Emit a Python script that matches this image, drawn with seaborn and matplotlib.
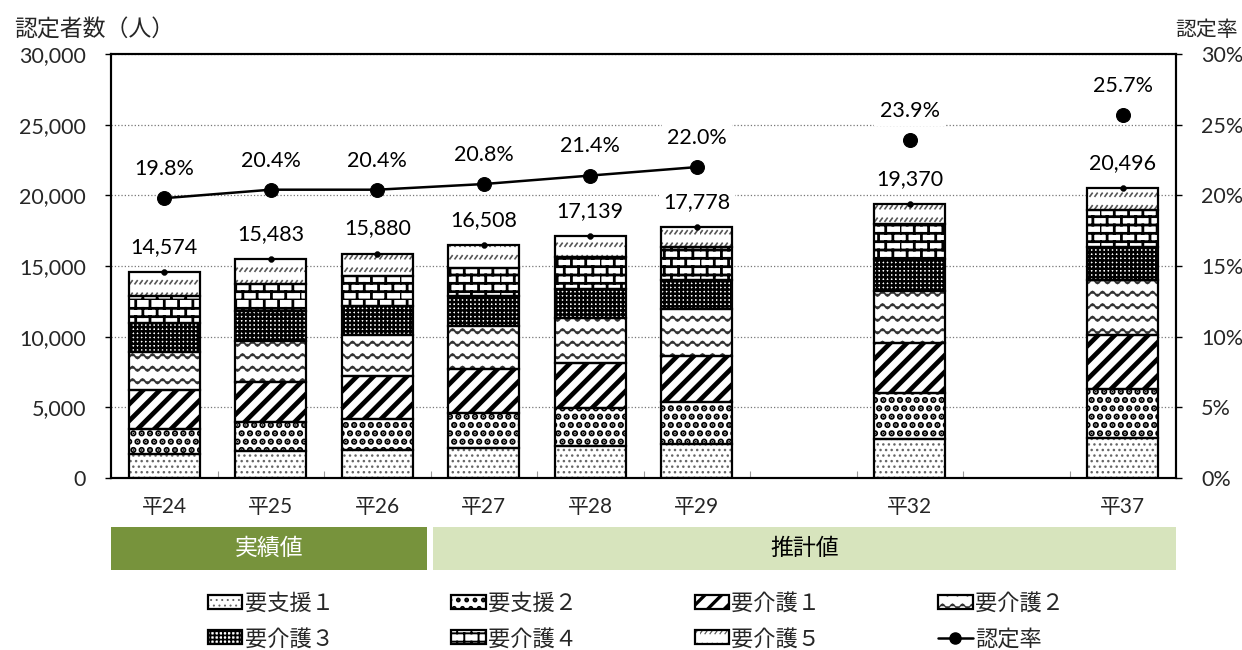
import warnings
warnings.filterwarnings('ignore')

import numpy as np
import matplotlib
matplotlib.use('Agg')
import matplotlib.pyplot as plt
import matplotlib.patches as mpatches
import matplotlib.hatch as mhatch
from matplotlib.path import Path
from matplotlib.lines import Line2D
from matplotlib.legend_handler import HandlerTuple
import matplotlib.transforms as mtransforms
import seaborn as sns

# ===== data =====
slots = ['平24', '平25', '平26', '平27', '平28', '平29', '', '平32', '', '平37']
years = ['平24', '平25', '平26', '平27', '平28', '平29', '平32', '平37']

shien1 = [1727, 1890, 1960, 2123, 2265, 2435, 2739, 2859]
shien2 = [1769, 2073, 2244, 2505, 2689, 2944, 3305, 3418]
kaigo1 = [2711, 2831, 2993, 3065, 3185, 3255, 3538, 3822]
kaigo2 = [2710, 2902, 2902, 3043, 3213, 3305, 3631, 3942]
kaigo3 = [2053, 2101, 2074, 2123, 2052, 2102, 2265, 2307]
kaigo4 = [1889, 1961, 2102, 2031, 2237, 2307, 2526, 2647]
kaigo5 = [1715, 1725, 1605, 1618, 1498, 1430, 1366, 1501]
totals = [14574, 15483, 15880, 16508, 17139, 17778, 19370, 20496]
rates = [19.8, 20.4, 20.4, 20.8, 21.4, 22.0, 23.9, 25.7]
n_actual = 6  # rate line joins the yearly values only

series_names = ['要支援１', '要支援２', '要介護１', '要介護２', '要介護３', '要介護４', '要介護５']
band_labels = ['実績値', '推計値']


# ===== custom hatches (wave, brick, short dash) =====
class WaveHatch(mhatch.HatchPatternBase):
    pts = 81

    def __init__(self, hatch, density):
        self.rows = hatch.count('~') * 8
        self.num_vertices = self.rows * self.pts

    def set_vertices_and_codes(self, vertices, codes):
        t = np.linspace(0, 1, self.pts)
        step = 1.0 / self.rows
        for i in range(self.rows):
            s = slice(i * self.pts, (i + 1) * self.pts)
            vertices[s, 0] = t
            vertices[s, 1] = (i + 0.5) * step + 0.022 * np.sin(2 * np.pi * 10 * t)
            codes[s] = Path.LINETO
            codes[i * self.pts] = Path.MOVETO


class BrickHatch(mhatch.HatchPatternBase):
    def __init__(self, hatch, density):
        self.rows = hatch.count('b') * 12
        self.cols = 7
        self.num_vertices = self.rows * 2 + self.rows * self.cols * 2 if self.rows else 0

    def set_vertices_and_codes(self, vertices, codes):
        step = 1.0 / self.rows
        k = 0
        for i in range(self.rows):
            y = i * step
            vertices[k] = (0, y); codes[k] = Path.MOVETO
            vertices[k + 1] = (1, y); codes[k + 1] = Path.LINETO
            k += 2
            off = 0.5 * (i % 2)
            for j in range(self.cols):
                x = ((j + off) / self.cols) % 1.0
                vertices[k] = (x, y); codes[k] = Path.MOVETO
                vertices[k + 1] = (x, y + step); codes[k + 1] = Path.LINETO
                k += 2


class DashHatch(mhatch.HatchPatternBase):
    def __init__(self, hatch, density):
        self.rows = hatch.count('d') * 8
        self.cols = 20
        self.num_vertices = self.rows * self.cols * 2

    def set_vertices_and_codes(self, vertices, codes):
        k = 0
        for i in range(self.rows):
            y = (i + 0.3) / self.rows
            for j in range(self.cols):
                x = j / self.cols
                vertices[k] = (x, y); codes[k] = Path.MOVETO
                vertices[k + 1] = (x + 0.022, y + 0.03); codes[k + 1] = Path.LINETO
                k += 2


mhatch._hatch_types.extend([WaveHatch, BrickHatch, DashHatch])

# hatch, hatch colour, hatch linewidth
styles = [
    ('...', '#666666', 1.0),
    ('..', '#000000', 3.2),
    ('//', '#000000', 3.4),
    ('~', '#333333', 1.3),
    ('++++', '#000000', 1.8),
    ('b', '#000000', 2.0),
    ('d', '#555555', 1.2),
]

# ===== figure =====
sns.set_theme(style='white')
plt.rcParams['font.family'] = ['Lato', 'Noto Sans CJK JP', 'DejaVu Sans']

fig = plt.figure(figsize=(12.42, 6.5), dpi=100)
ax = fig.add_axes([0.0894, 0.2646, 0.8575, 0.6523])
ax2 = ax.twinx()

xpos = np.array([slots.index(y) for y in years])
width = 0.67
layers = [shien1, shien2, kaigo1, kaigo2, kaigo3, kaigo4, kaigo5]

bottom = np.zeros(len(years))
handles = []
for vals, (hatch, hcol, hlw), name in zip(layers, styles, series_names):
    vals = np.array(vals, dtype=float)
    with plt.rc_context({'hatch.linewidth': hlw}):
        hb = ax.bar(xpos, vals, width, bottom=bottom, color='white',
                    edgecolor=hcol, linewidth=0, hatch=hatch, zorder=2)
    ob = ax.bar(xpos, vals, width, bottom=bottom, fill=False,
                edgecolor='black', linewidth=1.6, zorder=3)
    handles.append((hb.patches[0], ob.patches[0]))
    bottom += vals

# dots at top of each bar + total labels
sns.scatterplot(x=xpos, y=bottom, ax=ax, color='black', s=18, zorder=4,
                edgecolor='black', legend=False)
for x, y, t in zip(xpos, bottom, totals):
    ax.annotate(f'{t:,}', (x, y), xytext=(0, 18), textcoords='offset points',
                ha='center', va='center', fontsize=15.5, color='black', zorder=5,
                bbox=dict(boxstyle='square,pad=0.2', fc='white', ec='none'))

ax.set_xlim(-0.5, len(slots) - 0.5)
ax.set_ylim(0, 30000)
ax.set_yticks(np.arange(0, 30001, 5000))
ax.set_yticklabels([f'{v:,}' for v in range(0, 30001, 5000)])
ax.set_xticks(xpos)
ax.set_xticklabels(years)
ax.set_xticks(np.arange(0.5, len(slots) - 1, 1.0), minor=True)
ax.tick_params(axis='x', which='major', length=0, pad=14, labelsize=15)
ax.tick_params(axis='x', which='minor', direction='in', length=5, width=0.8,
               color='#999999', bottom=True)
ax.tick_params(axis='y', length=4, width=1, color='black', labelsize=15.5,
               pad=14, left=True)
ax.grid(axis='y', linestyle=':', linewidth=0.9, color='#777777')
ax.grid(axis='x', visible=False)
ax.set_axisbelow(True)
for sp in ax.spines.values():
    sp.set_color('black')
    sp.set_linewidth(1.5)

# rate line
sns.lineplot(x=xpos[:n_actual], y=rates[:n_actual], ax=ax2, color='black',
             linewidth=1.8, marker='o', markersize=10, markeredgecolor='black',
             zorder=5, legend=False)
sns.scatterplot(x=xpos[n_actual:], y=rates[n_actual:], ax=ax2, color='black',
                s=100, edgecolor='black', zorder=5, legend=False)
for x, r in zip(xpos, rates):
    ax2.annotate(f'{r:.1f}%', (x, r), xytext=(0, 21), textcoords='offset points',
                 ha='center', va='center', fontsize=15.5, color='black', zorder=6,
                 bbox=dict(boxstyle='square,pad=0.25', fc='white', ec='none'))
ax2.set_ylim(0, 30)
ax2.set_yticks(np.arange(0, 31, 5))
ax2.set_yticklabels([f'{v}%' for v in range(0, 31, 5)])
ax2.tick_params(axis='y', length=4, width=1, color='black', labelsize=15.5,
                pad=14, right=True)
ax2.grid(False)
for sp in ax2.spines.values():
    sp.set_color('black')
    sp.set_linewidth(1.5)

# axis titles
fig.text(14 / 1242, 1 - 30 / 650, '認定者数（人）', ha='left', va='center', fontsize=16.5)
fig.text(1238 / 1242, 1 - 30 / 650, '認定率', ha='right', va='center', fontsize=15)

# actual / estimate bands under the x axis
trans = mtransforms.blended_transform_factory(ax.transData, fig.transFigure)
band_y0, band_h = 1 - 570 / 650, 43 / 650
for (x0, x1), lab, fc, tc in zip([(-0.5, 2.47), (2.52, len(slots) - 0.5)], band_labels,
                                 ['#77933C', '#D7E4BD'], ['white', 'black']):
    ax.add_patch(mpatches.Rectangle((x0, band_y0), x1 - x0, band_h, transform=trans,
                                    facecolor=fc, edgecolor='none', clip_on=False))
    ax.text((x0 + x1) / 2, band_y0 + band_h / 2, lab, transform=trans, ha='center',
            va='center', fontsize=16.5, color=tc)

# legend (matplotlib fills column by column; reorder so rows read left to right)
rate_handle = Line2D([], [], color='black', marker='o', markersize=8, linewidth=1.8)
all_handles = handles + [rate_handle]
all_labels = series_names + ['認定率']
ncol, nrow = 4, 2
order = [r * ncol + c for c in range(ncol) for r in range(nrow)]
leg = fig.legend([all_handles[i] for i in order], [all_labels[i] for i in order],
                 handler_map={tuple: HandlerTuple(ndivide=1)},
                 loc='center', bbox_to_anchor=(0.512, 1 - 621 / 650), ncol=ncol,
                 frameon=False, fontsize=16, handlelength=1.55, handleheight=0.6,
                 handletextpad=0.1, columnspacing=5.3, labelspacing=0.65)
hatch_lw = {h: lw for h, _, lw in styles}
for p in leg.findobj(mpatches.Rectangle):
    h = p.get_hatch()
    if h in hatch_lw:
        if hasattr(p, 'set_hatch_linewidth'):
            p.set_hatch_linewidth(hatch_lw[h] * 0.7)
        else:
            p._hatch_linewidth = hatch_lw[h] * 0.7

fig.savefig('out.png', dpi=100)
